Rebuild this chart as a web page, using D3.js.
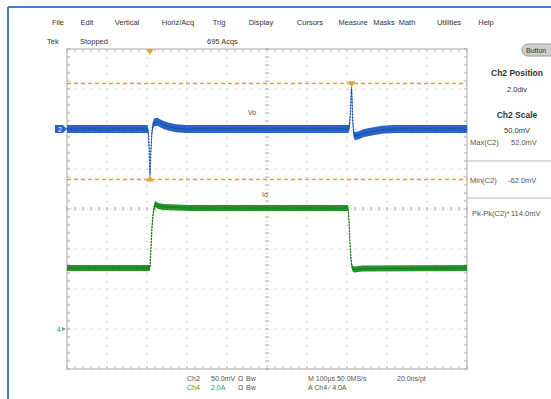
<!DOCTYPE html>
<html><head><meta charset="utf-8">
<script src="https://cdn.jsdelivr.net/npm/d3@7"></script>
<style>body{margin:0;background:#fff}svg{display:block;font-family:"Liberation Sans",Arial,sans-serif}</style>
</head><body><svg id="c" width="551" height="399"></svg>
<script>
// ---------------- data ----------------
const menuItems = ["File","Edit","Vertical","Horiz/Acq","Trig","Display","Cursors","Measure","Masks","Math","Utilities","Help"];
const statusItems = ["Tek","Stopped","695 Acqs"];
// Ch2 (Vo), time in µs, deviation in mV
const voTime = [-207.5,-6,-4,-2,-1,0,1,2,4,6,10,18,30,45,65,90,496,499,501,503,504,505,507,509,512,520,535,555,580,610,792.5];
const voMv   = [0,0,-6,-25,-45,-58,-48,-30,-10,2,8,9,6,3,1,0,0,5,20,45,52,40,10,-5,-9,-8,-5,-3,-1,0,0];
// Ch4 (Io), time in µs, current in A
const ioTime = [-207.5,0,1,3,5,8,11,14,20,35,100,495,496,498,500,502,504,507,512,530,792.5];
const ioAmp  = [3.05,3.05,3.5,4.3,5.1,5.8,6.15,6.25,6.15,6.1,6.05,6.05,5.9,5.2,4.3,3.6,3.2,3.0,2.98,3.02,3.05];
const cursorMv = [57, -63];
const markerTimes = [0, 504];
const panelTitles = ["Ch2 Position","2.0div","Ch2 Scale","50.0mV"];
const measureNames = ["Max(C2)","Min(C2)","Pk-Pk(C2)*"];
const measureValues = ["52.0mV","-62.0mV","114.0mV"];
const settingsRow1 = ["Ch2","50.0mV","Ω","Bw","M 100µs 50.0MS/s","20.0ns/pt"];
const settingsRow2 = ["Ch4","2.0A","Ω","Bw","A  Ch4  ⁄  4.0A"];
const traceLabels = ["Vo","Io"];

// ---------------- layout ----------------
const L = 67, R = 467, T = 49, B = 369;
const svg = d3.select("#c");
const x = d3.scaleLinear().domain([-207.5, 792.5]).range([L, R]);
const yV = d3.scaleLinear().domain([-300, 100]).range([B, T]);
const yI = d3.scaleLinear().domain([-2, 14]).range([B, T]);
const divX = d3.scaleLinear().domain([0, 10]).range([L, R]);
const divY = d3.scaleLinear().domain([0, 8]).range([T, B]);

// blue window border
svg.append("line").attr("x1",8).attr("y1",7).attr("x2",551).attr("y2",7).attr("stroke","#4a7ccc").attr("stroke-width",2);
svg.append("line").attr("x1",8).attr("y1",7).attr("x2",8).attr("y2",399).attr("stroke","#4a7ccc").attr("stroke-width",2);

// menu bar
const menuX = [58,87,127,178,219,261,310,353,384,407,449,486];
svg.selectAll("text.menu").data(menuItems).join("text").attr("class","menu")
  .attr("x",(d,i)=>menuX[i]).attr("y",25).attr("text-anchor","middle")
  .attr("font-size",7.5).attr("fill","#333").text(d=>d);
const statusX = [47,80,207];
svg.selectAll("text.stat").data(statusItems).join("text").attr("class","stat")
  .attr("x",(d,i)=>statusX[i]).attr("y",44)
  .attr("font-size",7.5).attr("fill","#333").text(d=>d);

// grid
const g = svg.append("g");
g.selectAll("line.gx").data(d3.range(1,10)).join("line")
  .attr("x1",d=>divX(d)).attr("x2",d=>divX(d)).attr("y1",T).attr("y2",B)
  .attr("stroke","#b8b8b8").attr("stroke-dasharray","1.2,6.8");
g.selectAll("line.gy").data(d3.range(1,8)).join("line")
  .attr("y1",d=>divY(d)).attr("y2",d=>divY(d)).attr("x1",L).attr("x2",R)
  .attr("stroke","#b8b8b8").attr("stroke-dasharray","1.2,6.8");
const minorX = d3.range(0,50.01,1).map(i=>divX(i/5));
const minorY = d3.range(0,40.01,1).map(i=>divY(i/5));
g.selectAll("line.mx").data(minorX).join("line")
  .attr("x1",d=>d).attr("x2",d=>d).attr("y1",divY(4)-2).attr("y2",divY(4)+2).attr("stroke","#aaa");
g.selectAll("line.my").data(minorY).join("line")
  .attr("y1",d=>d).attr("y2",d=>d).attr("x1",divX(5)-2).attr("x2",divX(5)+2).attr("stroke","#aaa");
g.selectAll("line.bx").data(minorX).join("line")
  .attr("x1",d=>d).attr("x2",d=>d).attr("y1",B-3).attr("y2",B).attr("stroke","#aaa");
g.selectAll("line.tx").data(minorX).join("line")
  .attr("x1",d=>d).attr("x2",d=>d).attr("y1",T).attr("y2",T+3).attr("stroke","#bbb");
g.selectAll("line.ly").data(minorY).join("line")
  .attr("y1",d=>d).attr("y2",d=>d).attr("x1",L).attr("x2",L+3).attr("stroke","#aaa");
g.selectAll("line.ry").data(minorY).join("line")
  .attr("y1",d=>d).attr("y2",d=>d).attr("x1",R-3).attr("x2",R).attr("stroke","#aaa");
g.append("line").attr("x1",L).attr("x2",R).attr("y1",divY(4)).attr("y2",divY(4)).attr("stroke","#ccc").attr("stroke-dasharray","1,3");
g.append("line").attr("y1",T).attr("y2",B).attr("x1",divX(5)).attr("x2",divX(5)).attr("stroke","#ccc").attr("stroke-dasharray","1,3");
g.append("rect").attr("x",L).attr("y",T).attr("width",R-L).attr("height",B-T)
  .attr("fill","none").attr("stroke","#a8a8a8");

// cursor dashed lines
svg.selectAll("line.cur").data(cursorMv).join("line")
  .attr("x1",L).attr("x2",R).attr("y1",d=>Math.round(yV(d))+0.5).attr("y2",d=>Math.round(yV(d))+0.5)
  .attr("stroke","#e8a020").attr("stroke-width",1.3).attr("stroke-dasharray","4,3");

// traces
const vo = voTime.map((t,i)=>({t, v: voMv[i]}));
const io = ioTime.map((t,i)=>({t, v: ioAmp[i]}));
const voBand = 5, ioBand = 0.15;
svg.append("path").datum(vo)
  .attr("d", d3.area().x(d=>x(d.t)).y0(d=>yV(d.v-voBand)).y1(d=>yV(d.v+voBand)))
  .attr("fill","#2b63c6");
svg.append("path").datum(vo)
  .attr("d", d3.line().x(d=>x(d.t)).y(d=>yV(d.v)))
  .attr("fill","none").attr("stroke","#1747a0").attr("stroke-width",1.2).attr("stroke-dasharray","2,1");
svg.append("path").datum(io)
  .attr("d", d3.area().x(d=>x(d.t)).y0(d=>yI(d.v-ioBand)).y1(d=>yI(d.v+ioBand)))
  .attr("fill","#25952a");
svg.append("path").datum(io)
  .attr("d", d3.line().x(d=>x(d.t)).y(d=>yI(d.v)))
  .attr("fill","none").attr("stroke","#16701a").attr("stroke-width",1.2).attr("stroke-dasharray","2,1");

// orange markers
const tri = d3.symbol().type(d3.symbolTriangle).size(22);
svg.append("path").attr("d",tri).attr("transform",`translate(${x(0)},${T+2}) rotate(180)`).attr("fill","#e8a030");
svg.append("path").attr("d",tri).attr("transform",`translate(${x(markerTimes[0])},${yV(cursorMv[1])})`).attr("fill","#e8a030");
svg.append("path").attr("d",tri).attr("transform",`translate(${x(markerTimes[1])},${yV(cursorMv[0])}) rotate(180)`).attr("fill","#e8a030");

// trace labels
svg.append("text").attr("x",x(245)).attr("y",yV(17)).attr("font-size",7).attr("fill","#555").text(traceLabels[0]);
svg.append("text").attr("x",x(280)).attr("y",yI(6.6)).attr("font-size",7).attr("fill","#555").text(traceLabels[1]);

// channel tags
const y2 = yV(0);
svg.append("path").attr("d",`M55,${y2-4}L63,${y2-4}L67,${y2}L63,${y2+4}L55,${y2+4}Z`).attr("fill","#2b63c6");
svg.append("text").attr("x",58).attr("y",y2+3).attr("font-size",7).attr("fill","#fff").text("2");
const y4 = yI(0);
svg.append("text").attr("x",57).attr("y",y4+3).attr("font-size",7).attr("fill","#3a9a3a").text("4");
svg.append("path").attr("d",`M62,${y4-2}L66,${y4}L62,${y4+2}Z`).attr("fill","#7a9a7a");

// right panel
svg.append("rect").attr("x",522).attr("y",44).attr("width",34).attr("height",12).attr("rx",6)
  .attr("fill","#cfcfcf").attr("stroke","#999");
svg.append("text").attr("x",526).attr("y",53).attr("font-size",7).attr("fill","#333").text("Button");
const ptY = [76,92,118,133];
svg.selectAll("text.pt").data(panelTitles).join("text").attr("class","pt")
  .attr("x",517).attr("y",(d,i)=>ptY[i]).attr("text-anchor","middle")
  .attr("font-size",(d,i)=>i%2===0?8.5:7.5).attr("font-weight",(d,i)=>i%2===0?"bold":"normal")
  .attr("fill","#333").text(d=>d);
const mY = [145,183,216];
svg.selectAll("text.mn").data(measureNames).join("text").attr("class","mn")
  .attr("x",(d,i)=>i===2?472:470).attr("y",(d,i)=>mY[i]).attr("font-size",7.5).attr("fill","#555").text(d=>d);
svg.selectAll("text.mv").data(measureValues).join("text").attr("class","mv")
  .attr("x",(d,i)=>i===1?508:511).attr("y",(d,i)=>mY[i]).attr("font-size",7.5).attr("fill","#555").text(d=>d);
svg.selectAll("line.sep").data([161,198]).join("line")
  .attr("x1",R).attr("x2",551).attr("y1",d=>d).attr("y2",d=>d).attr("stroke","#bbb");

// bottom settings
const s1X = [187,211,238,246,308,397];
const s2X = [187,211,238,246,308];
svg.selectAll("text.s1").data(settingsRow1).join("text").attr("class","s1")
  .attr("x",(d,i)=>s1X[i]).attr("y",381).attr("font-size",7).attr("fill","#555").text(d=>d);
svg.selectAll("text.s2").data(settingsRow2).join("text").attr("class","s2")
  .attr("x",(d,i)=>s2X[i]).attr("y",390).attr("font-size",7)
  .attr("fill",(d,i)=>i===0||i===1?"#3a9a3a":"#555").text(d=>d);
</script></body></html>
